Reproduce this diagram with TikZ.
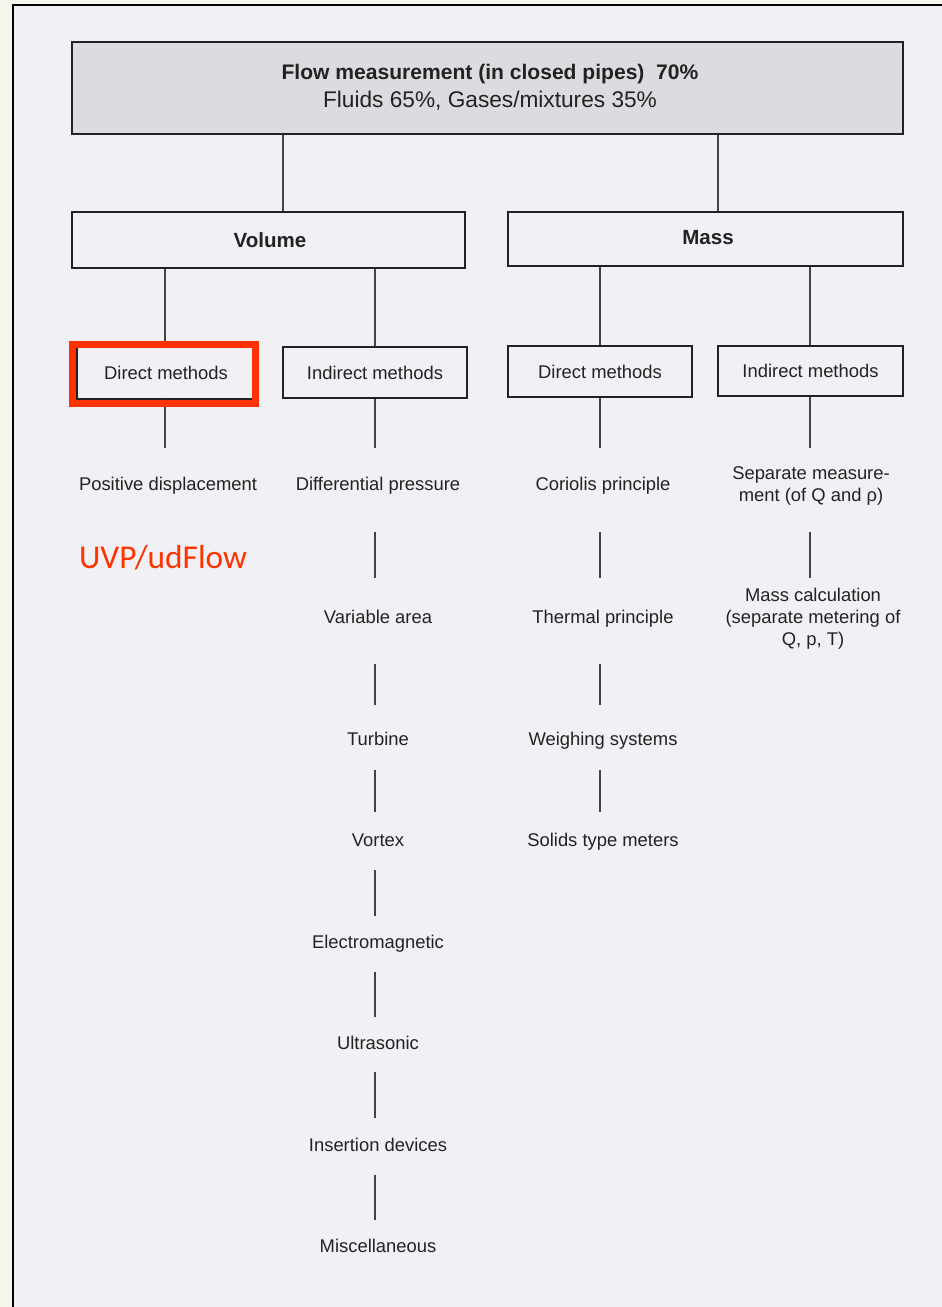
\documentclass[tikz,border=0pt]{standalone}
\usepackage{fontspec}
\setmainfont{Liberation Sans}
\newfontfamily\carlito{Carlito}
\usetikzlibrary{calc}
\definecolor{bgpage}{HTML}{F1F1F5}
\definecolor{bgstrip}{HTML}{F5F5EC}
\definecolor{hlred}{HTML}{FF3300}
\definecolor{ink}{HTML}{222222}
\definecolor{topfill}{HTML}{DCDCE0}
\tikzset{
  lbl/.style={inner sep=0pt, text=ink, font=\fontsize{13.8}{16.5}\selectfont, text height=10pt, text depth=0pt, align=center},
  mlbl/.style={inner sep=0pt, text=ink, font=\fontsize{13.8}{16.5}\selectfont, align=center},
  smallbox/.style={draw=ink, line width=1.1pt, fill=bgpage, inner sep=0pt, text=ink, font=\fontsize{13.8}{16.5}\selectfont},
  bigbox/.style={draw=ink, line width=1.5pt, fill=bgpage, inner sep=0pt, text=ink, font=\fontsize{15.4}{18}\selectfont\bfseries},
  conn/.style={draw=ink!85, line width=0.8pt},
}
\begin{document}
\begin{tikzpicture}[x=0.75pt,y=-0.75pt]
\useasboundingbox (0,0) rectangle (942,1307);
\fill[bgstrip] (0,0) rectangle (942,1307);
\fill[bgpage] (13,5) rectangle (942,1307);
\draw[black, line width=1.5pt] (13,1307) -- (13,5) -- (942,5);

% top box
\node[draw=ink, line width=1.8pt, fill=topfill, minimum width=623.25pt, minimum height=69pt, inner sep=0pt] (top) at (487.5,88) {};
\node[inner sep=0pt, text=ink, font=\fontsize{15.8}{18}\selectfont\bfseries] (ttl) at (490,74) {Flow measurement (in closed pipes)\ \ 70\%};
\node[inner sep=0pt, text=ink, font=\fontsize{17}{20}\selectfont] (sub) at (490,101) {Fluids 65\%, Gases/mixtures 35\%};

% volume / mass
\node[bigbox, minimum width=294.75pt, minimum height=42pt] (vol) at (268.5,240) {};
\node[inner sep=0pt, text=ink, font=\fontsize{15.4}{18}\selectfont\bfseries] (voltxt) at (270,240) {Volume};
\node[bigbox, minimum width=296.25pt, minimum height=40.5pt] (mass) at (705.5,239) {};
\node[inner sep=0pt, text=ink, font=\fontsize{15.4}{18}\selectfont\bfseries] (masstxt) at (708,238) {Mass};

% column coordinates
\coordinate (t1) at (283,0);
\coordinate (t2) at (718,0);
\coordinate (c1) at (165,0);
\coordinate (c2) at (375,0);
\coordinate (c3) at (600,0);
\coordinate (c4) at (810,0);

% method boxes
\node[smallbox, minimum width=133.5pt, minimum height=39pt] (vd) at (166,373) {Direct methods};
\node[smallbox, minimum width=138pt, minimum height=38.25pt] (vi) at (375,372.5) {Indirect methods};
\node[smallbox, minimum width=138pt, minimum height=38.25pt] (md) at (600,371.5) {Direct methods};
\node[smallbox, minimum width=138.75pt, minimum height=37.5pt] (mi) at (810.5,371) {Indirect methods};

% text labels
\node[lbl] (pd) at (168,484) {Positive displacement};
\node[lbl] (dp) at (378,484) {Differential pressure};
\node[lbl] (cp) at (603,484) {Coriolis principle};
\node[mlbl] (sm) at (811,486) {Separate measure-\\ment (of Q and ρ)};
\node[lbl] (va) at (378,617) {Variable area};
\node[lbl] (tp) at (603,617) {Thermal principle};
\node[mlbl] (mc) at (813,619) {Mass calculation\\(separate metering of\\Q, p, T)};
\node[lbl] (tu) at (378,739) {Turbine};
\node[lbl] (ws) at (603,739) {Weighing systems};
\node[lbl] (vo) at (378,840) {Vortex};
\node[lbl] (st) at (603,840) {Solids type meters};
\node[lbl] (em) at (378,942) {Electromagnetic};
\node[lbl] (us) at (378,1043) {Ultrasonic};
\node[lbl] (ins) at (378,1145) {Insertion devices};
\node[lbl] (misc) at (378,1246) {Miscellaneous};

\node[inner sep=0pt, text=hlred, font=\carlito\fontsize{25}{30}\selectfont] (uvp) at (163,558) {UVP/udFlow};

% connectors
\draw[conn] (top.south -| t1) -- (vol.north -| t1);
\draw[conn] (top.south -| t2) -- (mass.north -| t2);
\draw[conn] (vol.south -| c1) -- (vd.north -| c1);
\draw[conn] (vol.south -| c2) -- (vi.north -| c2);
\draw[conn] (mass.south -| c3) -- (md.north -| c3);
\draw[conn] (mass.south -| c4) -- (mi.north -| c4);

\draw[conn] (vd.south -| c1) -- ($(pd.center -| c1)+(0,-36)$);
\draw[conn] (vi.south -| c2) -- ($(dp.center -| c2)+(0,-36)$);
\draw[conn] (md.south -| c3) -- ($(cp.center -| c3)+(0,-36)$);
\draw[conn] (mi.south -| c4) -- ($(sm.center -| c4)+(0,-38)$);

\draw[conn] ($(dp.center -| c2)+(0,48)$) -- ($(va.center -| c2)+(0,-39)$);
\draw[conn] ($(cp.center -| c3)+(0,48)$) -- ($(tp.center -| c3)+(0,-39)$);
\draw[conn] ($(sm.center -| c4)+(0,46)$) -- ($(mc.center -| c4)+(0,-41)$);

\draw[conn] ($(va.center -| c2)+(0,47)$) -- ($(tu.center -| c2)+(0,-34)$);
\draw[conn] ($(tp.center -| c3)+(0,47)$) -- ($(ws.center -| c3)+(0,-34)$);

\draw[conn] ($(tu.center -| c2)+(0,31)$) -- ($(vo.center -| c2)+(0,-28)$);
\draw[conn] ($(ws.center -| c3)+(0,31)$) -- ($(st.center -| c3)+(0,-28)$);

\draw[conn] ($(vo.center -| c2)+(0,30)$) -- ($(em.center -| c2)+(0,-26)$);
\draw[conn] ($(em.center -| c2)+(0,30)$) -- ($(us.center -| c2)+(0,-26)$);
\draw[conn] ($(us.center -| c2)+(0,29)$) -- ($(ins.center -| c2)+(0,-27)$);
\draw[conn] ($(ins.center -| c2)+(0,30)$) -- ($(misc.center -| c2)+(0,-26)$);

% highlight
\draw[hlred, line width=5.25pt] (72.5,344.5) rectangle (255.5,403.5);
\end{tikzpicture}
\end{document}
